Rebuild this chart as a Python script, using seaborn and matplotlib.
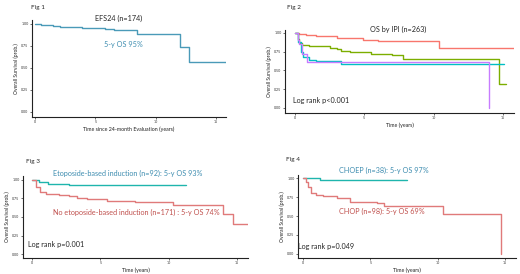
import numpy as np
import pandas as pd
import seaborn as sns
import matplotlib.pyplot as plt

# ---- data (step points: time in years, survival prob) ----
f1_time = [0, 0.5, 1.0, 1.5, 2.1, 3.0, 3.9, 5.8, 6.5, 8.4, 12.0, 12.75, 15.8]
f1_surv = [1.00, 0.99, 0.985, 0.98, 0.97, 0.96, 0.955, 0.945, 0.935, 0.89, 0.74, 0.57, 0.57]

f2_groups = ["IPI 0-1", "IPI 2", "IPI 3", "IPI 4-5"]
f2_time = {
    "IPI 0-1": [0, 0.3, 0.8, 1.5, 3.0, 4.9, 6.0, 10.4, 15.8],
    "IPI 2": [0, 0.2, 0.3, 0.5, 1.0, 2.5, 3.0, 3.3, 4.0, 5.5, 7.0, 7.8, 14.7, 15.2],
    "IPI 3": [0, 0.2, 0.4, 0.6, 1.0, 1.5, 3.3, 15.05],
    "IPI 4-5": [0, 0.2, 0.3, 0.5, 0.9, 14.0],
}
f2_surv = {
    "IPI 0-1": [1.00, 0.98, 0.97, 0.96, 0.93, 0.91, 0.89, 0.80, 0.80],
    "IPI 2": [1.00, 0.92, 0.87, 0.84, 0.82, 0.80, 0.78, 0.76, 0.74, 0.72, 0.70, 0.65, 0.32, 0.32],
    "IPI 3": [1.00, 0.88, 0.75, 0.68, 0.64, 0.62, 0.585, 0.585],
    "IPI 4-5": [1.00, 0.90, 0.85, 0.72, 0.61, 0.0],
}
f2_colors = ["#F8766D", "#7CAE00", "#00BFC4", "#C77CFF"]

f3_groups = ["Etoposide", "No etoposide"]
f3_time = {
    "Etoposide": [0, 0.5, 1.2, 2.7, 11.3],
    "No etoposide": [0, 0.3, 0.6, 1.0, 2.0, 2.7, 3.3, 4.0, 5.5, 7.5, 10.3, 14.0, 14.7, 15.8],
}
f3_surv = {
    "Etoposide": [1.00, 0.97, 0.95, 0.935, 0.935],
    "No etoposide": [1.00, 0.90, 0.84, 0.81, 0.80, 0.78, 0.76, 0.74, 0.72, 0.70, 0.665, 0.54, 0.41, 0.41],
}

f4_groups = ["CHOEP", "CHOP"]
f4_time = {
    "CHOEP": [0, 1.25, 7.7],
    "CHOP": [0, 0.2, 0.4, 0.6, 1.0, 1.5, 2.5, 3.5, 5.5, 6.0, 10.4, 14.7],
}
f4_surv = {
    "CHOEP": [1.00, 0.97, 0.97],
    "CHOP": [1.00, 0.95, 0.88, 0.80, 0.78, 0.76, 0.74, 0.69, 0.67, 0.63, 0.52, 0.0],
}
pair_colors = ["#1FB5AD", "#E07A7A"]

teal_txt = "#3E8DB0"
red_txt = "#C0504D"

sns.set_theme(style="white")
plt.rcParams['font.family'] = ['Lato', 'DejaVu Sans']

W, H = 520, 274
fig = plt.figure(figsize=(W / 100, H / 100), dpi=100)
TXT = 5.2
FIG = 4.6


def px_axes(x0, y_top, x1, y_bot):
    return fig.add_axes([x0 / W, 1 - y_bot / H, (x1 - x0) / W, (y_bot - y_top) / H])


def long_df(groups, times, survs):
    rows = []
    for g in groups:
        for t, s in zip(times[g], survs[g]):
            rows.append((g, t, s))
    return pd.DataFrame(rows, columns=["group", "time", "surv"])


def style(ax, xlim, ylim, xlabel):
    ax.set_xlim(*xlim)
    ax.set_ylim(*ylim)
    ax.set_xticks([0, 5, 10, 15])
    ax.set_yticks([0, 0.25, 0.5, 0.75, 1.0])
    ax.set_yticklabels(["0.00", "0.25", "0.50", "0.75", "1.00"])
    ax.tick_params(labelsize=2.6, length=1.5, width=0.5, pad=1, colors="#333333",
                   bottom=True, left=True)
    for s in ["top", "right"]:
        ax.spines[s].set_visible(False)
    for s in ["left", "bottom"]:
        ax.spines[s].set_color("#222222")
        ax.spines[s].set_linewidth(0.8)
    ax.set_xlabel(xlabel, fontsize=3.8, labelpad=1.5, color="#222222")
    ax.set_ylabel("Overall Survival (prob.)", fontsize=3.6, labelpad=1.5, color="#222222")


# Fig 1
ax1 = px_axes(32, 20, 226, 117)
d1 = pd.DataFrame({"time": f1_time, "surv": f1_surv})
sns.lineplot(data=d1, x="time", y="surv", ax=ax1, color="#4A9AB8", lw=1.0,
             drawstyle="steps-post", estimator=None, sort=False)
style(ax1, (-0.25, 15.8), (-0.057, 1.045), "Time since 24-month Evaluation (years)")
fig.text(31 / W, 1 - 7 / H, "Fig 1", fontsize=FIG, va="center", ha="left")
fig.text(119 / W, 1 - 18 / H, "EFS24 (n=174)", fontsize=TXT, va="center", ha="center")
fig.text(104 / W, 1 - 44 / H, "5-y OS 95%", fontsize=TXT, va="center", ha="left", color=teal_txt)

# Fig 2
ax2 = px_axes(285, 30, 514, 113)
d2 = long_df(f2_groups, f2_time, f2_surv)
sns.lineplot(data=d2, x="time", y="surv", hue="group", palette=f2_colors, ax=ax2,
             lw=1.0, drawstyle="steps-post", estimator=None, sort=False, legend=False)
style(ax2, (-0.72, 15.8), (-0.067, 1.04), "Time (years)")
fig.text(287 / W, 1 - 7 / H, "Fig 2", fontsize=FIG, va="center", ha="left")
fig.text(398 / W, 1 - 29 / H, "OS by IPI (n=263)", fontsize=TXT, va="center", ha="center")
fig.text(293 / W, 1 - 101 / H, "Log rank p<0.001", fontsize=TXT, va="center", ha="left")

# Fig 3
ax3 = px_axes(23, 176, 248, 258)
d3 = long_df(f3_groups, f3_time, f3_surv)
sns.lineplot(data=d3, x="time", y="surv", hue="group", palette=pair_colors, ax=ax3,
             lw=1.0, drawstyle="steps-post", estimator=None, sort=False, legend=False)
style(ax3, (-0.66, 15.8), (-0.054, 1.054), "Time (years)")
fig.text(26 / W, 1 - 162 / H, "Fig 3", fontsize=FIG, va="center", ha="left")
fig.text(53 / W, 1 - 173 / H, "Etoposide-based induction (n=92): 5-y OS 93%",
         fontsize=TXT, va="center", ha="left", color=teal_txt)
fig.text(53 / W, 1 - 212 / H, "No etoposide-based induction (n=171) : 5-y OS 74%",
         fontsize=TXT, va="center", ha="left", color=red_txt)
fig.text(28 / W, 1 - 245 / H, "Log rank p=0.001", fontsize=TXT, va="center", ha="left")

# Fig 4
ax4 = px_axes(298, 175, 516, 258)
d4 = long_df(f4_groups, f4_time, f4_surv)
sns.lineplot(data=d4, x="time", y="surv", hue="group", palette=pair_colors, ax=ax4,
             lw=1.0, drawstyle="steps-post", estimator=None, sort=False, legend=False)
style(ax4, (-0.37, 15.8), (-0.053, 1.04), "Time (years)")
fig.text(286 / W, 1 - 160 / H, "Fig 4", fontsize=FIG, va="center", ha="left")
fig.text(339 / W, 1 - 170 / H, "CHOEP (n=38): 5-y OS 97%", fontsize=TXT, va="center",
         ha="left", color=teal_txt)
fig.text(339 / W, 1 - 211 / H, "CHOP (n=98): 5-y OS 69%", fontsize=TXT, va="center",
         ha="left", color=red_txt)
fig.text(298 / W, 1 - 246 / H, "Log rank p=0.049", fontsize=TXT, va="center", ha="left")

fig.savefig("out.png", dpi=100)
